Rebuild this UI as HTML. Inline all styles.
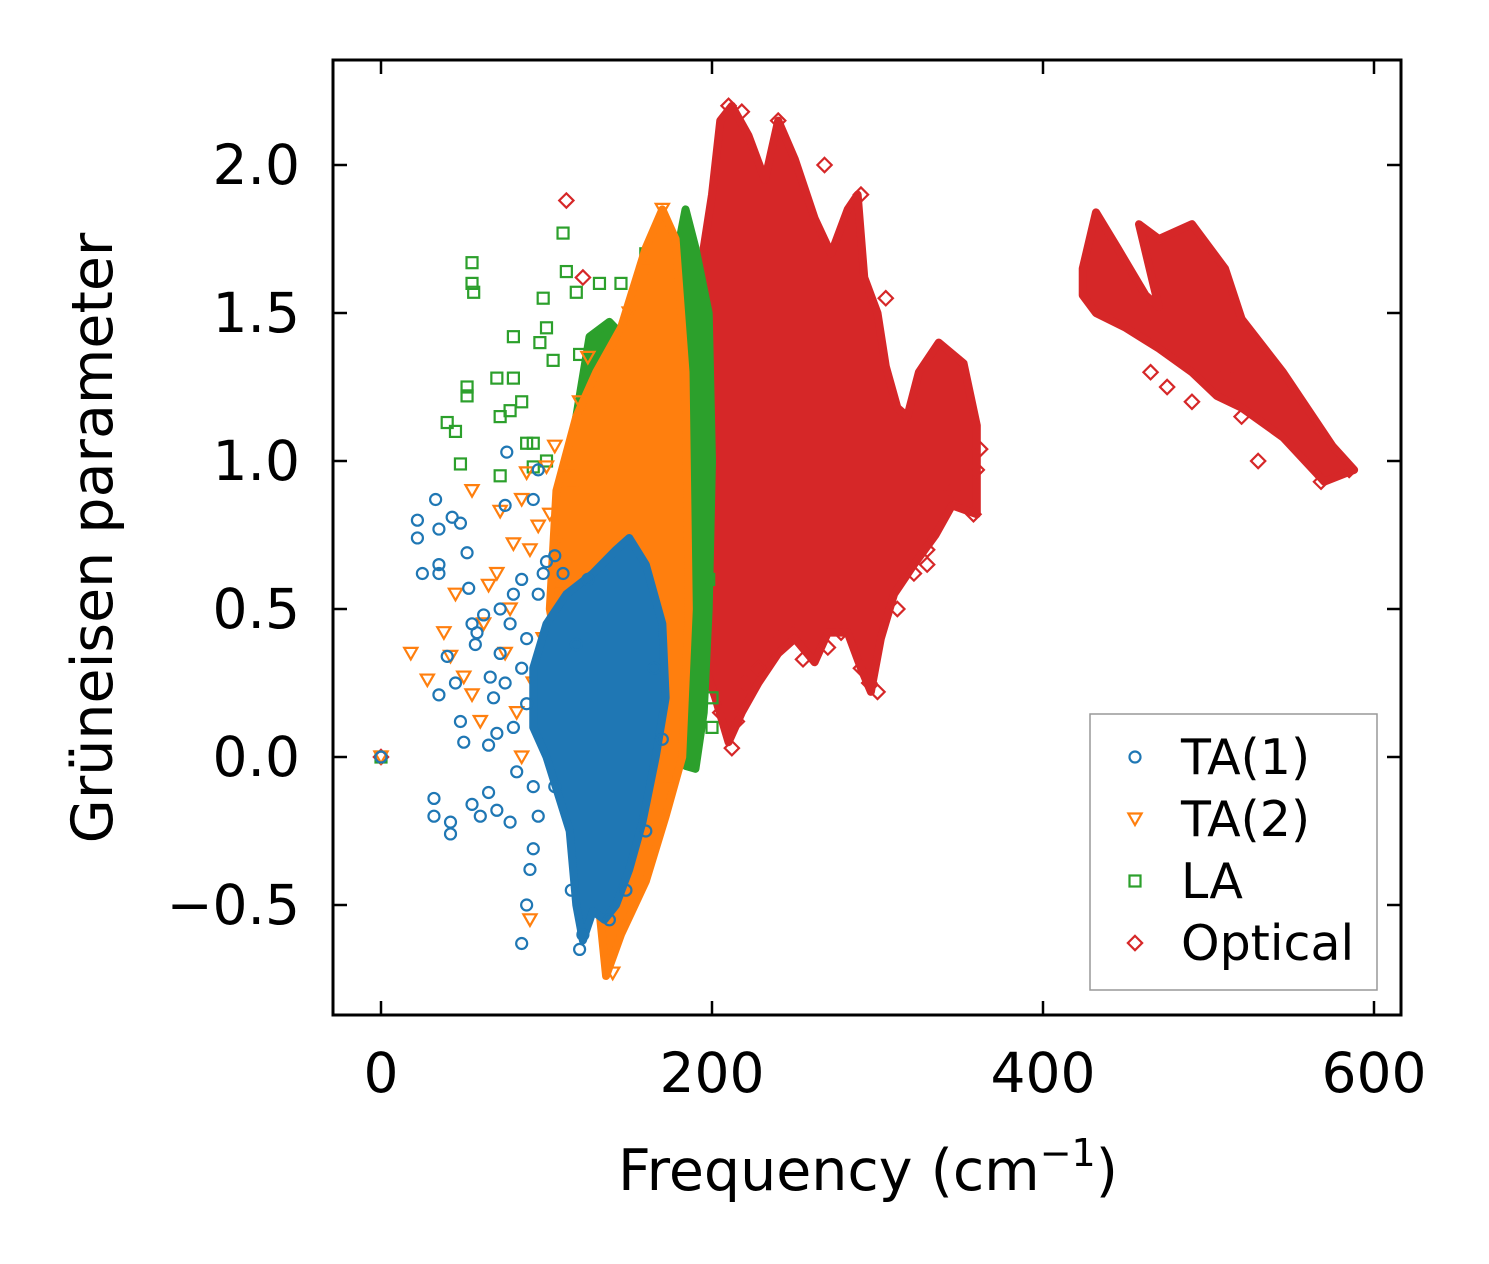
<!DOCTYPE html>
<html><head><meta charset="utf-8">
<style>
html,body{margin:0;padding:0;background:#fff;}
svg{display:block;font-family:"DejaVu Sans","Liberation Sans",sans-serif;}
</style></head>
<body>
<svg id="chart" width="1489" height="1264" viewBox="0 0 1489 1264" xmlns="http://www.w3.org/2000/svg">
<rect x="0" y="0" width="1489" height="1264" fill="#fff"/>
<defs><clipPath id="plotclip"><rect x="333" y="60" width="1068" height="955"/></clipPath></defs>
<g id="marks" clip-path="url(#plotclip)"></g>
<rect x="333" y="60" width="1068" height="955" fill="none" stroke="#000" stroke-width="3"/>
<g id="axes"></g>
<text x="868" y="1190" font-size="57" text-anchor="middle">Frequency (cm<tspan font-size="38" dy="-24">−1</tspan><tspan dy="24">)</tspan></text>
<text transform="translate(112,538) rotate(-90)" font-size="57" text-anchor="middle">Grüneisen parameter</text>
<g id="legend">
<rect x="1090" y="714" width="287" height="276" fill="#fff" fill-opacity="0.8" stroke="#999" stroke-width="1.5"/>
</g>
</svg>
<script>
const xTicks=[0,200,400,600];
const yTicks=[-0.5,0.0,0.5,1.0,1.5,2.0];
const yTickLabels=["−0.5","0.0","0.5","1.0","1.5","2.0"];
const seriesNames=["TA(1)","TA(2)","LA","Optical"];
const seriesColors=["#1f77b4","#ff7f0e","#2ca02c","#d62728"];
// dense-core envelopes [freq, gamma]
const opticalCoreA=[[195,1.72],[200,1.9],[205,2.15],[212,2.2],[222,2.1],[232,1.95],[240,2.15],[250,2.02],[262,1.82],[272,1.7],[282,1.85],[288,1.9],[292,1.62],[300,1.5],[305,1.32],[312,1.18],[318,1.15],[325,1.3],[337,1.4],[352,1.33],[360,1.12],[360,0.82],[345,0.85],[335,0.75],[322,0.65],[310,0.55],[302,0.4],[296,0.22],[290,0.3],[282,0.42],[270,0.42],[262,0.32],[250,0.4],[240,0.35],[228,0.25],[218,0.15],[210,0.05],[202,0.2],[196,0.3]];
const opticalCoreB=[[424,1.65],[432,1.84],[445,1.72],[462,1.56],[470,1.52],[458,1.8],[470,1.75],[490,1.8],[510,1.65],[520,1.48],[545,1.3],[575,1.05],[588,0.97],[570,0.93],[545,1.08],[520,1.18],[505,1.22],[490,1.3],[470,1.38],[450,1.45],[432,1.5],[424,1.56]];
const laCore=[[176,1.62],[184,1.85],[190,1.72],[198,1.5],[200,1.0],[198,0.5],[195,0.15],[190,-0.04],[184,-0.03],[180,0.3],[175,1.0]];
const laCoreB=[[118,1.15],[126,1.42],[138,1.47],[150,1.4],[155,1.2],[140,1.05],[124,1.05]];
const ta2Core=[[118,1.15],[130,1.3],[145,1.45],[160,1.72],[170,1.85],[178,1.75],[184,1.3],[186,0.5],[182,0.0],[172,-0.2],[160,-0.42],[145,-0.6],[136,-0.74],[128,-0.3],[112,0.2],[102,0.5],[106,0.9]];
const ta1Core=[[100,0.45],[112,0.55],[128,0.62],[142,0.7],[150,0.74],[160,0.65],[170,0.45],[172,0.2],[166,0.0],[158,-0.22],[150,-0.38],[142,-0.5],[135,-0.55],[128,-0.52],[122,-0.62],[118,-0.5],[114,-0.25],[100,0.0],[92,0.1],[92,0.3]];
// scattered points [freq, gamma]
const ta1Pts=[[0,0],[22,0.8],[22,0.74],[25,0.62],[33,0.87],[35,0.77],[35,0.65],[35,0.62],[35,0.21],[43,0.81],[48,0.79],[52,0.69],[53,0.57],[55,0.45],[57,0.38],[48,0.12],[50,0.05],[32,-0.14],[32,-0.2],[42,-0.22],[42,-0.26],[55,-0.16],[60,-0.2],[65,-0.12],[70,-0.18],[78,-0.22],[85,-0.63],[88,-0.5],[90,-0.38],[92,-0.31],[68,0.2],[66,0.27],[72,0.5],[75,0.85],[76,1.03],[92,0.87],[95,0.97],[100,0.66],[118,0.38],[125,0.6],[62,0.48],[58,0.42],[80,0.1],[85,0.3],[105,-0.1],[115,-0.45],[120,-0.65],[122,-0.6],[138,-0.55],[148,-0.45],[160,-0.25],[170,0.06],[165,0.3],[45,0.25],[40,0.34],[65,0.04],[80,0.55],[85,0.6],[78,0.45],[72,0.35],[88,0.18],[82,-0.05],[95,-0.2],[88,0.4],[95,0.55],[75,0.25],[70,0.08],[92,-0.1],[98,0.62],[105,0.68],[110,0.62]];
const ta2Pts=[[0,0],[18,0.35],[28,0.26],[38,0.42],[42,0.34],[45,0.55],[50,0.27],[55,0.9],[62,0.45],[65,0.58],[70,0.62],[72,0.83],[80,0.72],[85,0.87],[88,0.96],[90,-0.55],[100,0.98],[105,1.05],[110,0.55],[112,0.95],[120,1.2],[125,1.35],[140,-0.73],[60,0.12],[55,0.21],[75,0.35],[150,1.5],[160,1.65],[170,1.85],[175,-0.1],[95,0.78],[102,0.82],[90,0.7],[78,0.5],[92,0.25],[98,0.4],[108,0.75],[115,0.9],[82,0.15],[85,0.0]];
const laPts=[[0,0],[40,1.13],[45,1.1],[48,0.99],[52,1.22],[52,1.25],[55,1.67],[55,1.6],[56,1.57],[70,1.28],[72,1.15],[78,1.17],[80,1.28],[80,1.42],[85,1.2],[88,1.06],[92,1.06],[96,1.4],[98,1.55],[100,1.45],[104,1.34],[100,1.0],[110,1.77],[112,1.64],[118,1.57],[120,1.36],[132,1.6],[145,1.6],[160,1.7],[175,1.75],[200,0.1],[200,0.2],[198,0.6],[92,0.98],[72,0.95]];
const opticalPts=[[0,0],[112,1.88],[122,1.62],[205,0.15],[212,0.03],[215,0.12],[220,0.25],[228,0.3],[240,0.4],[250,0.42],[255,0.33],[270,0.37],[278,0.42],[290,0.3],[295,0.25],[300,0.22],[312,0.5],[322,0.62],[330,0.7],[330,0.65],[358,0.82],[362,1.04],[360,0.97],[240,2.15],[218,2.18],[268,2.0],[530,1.0],[520,1.15],[490,1.2],[475,1.25],[568,0.93],[585,0.97],[510,1.3],[465,1.3],[305,1.55],[290,1.9],[345,0.9],[210,2.2]];
const ptsAll=[ta1Pts,ta2Pts,laPts,opticalPts];

const NS="http://www.w3.org/2000/svg";
function X(v){return 381+(v-0)*(1374-381)/600;}
function Y(v){return 757-v*(757-165)/2.0;}
function el(tag,attrs,parent){const e=document.createElementNS(NS,tag);for(const k in attrs)e.setAttribute(k,attrs[k]);parent.appendChild(e);return e;}
const marks=document.getElementById('marks');
const axes=document.getElementById('axes');
const legend=document.getElementById('legend');

function marker(i,x,y,parent,r){
  const c=seriesColors[i];let m;
  if(i===0){m=el('circle',{cx:x,cy:y,r:r,fill:'none',stroke:c,'stroke-width':2.2},parent);}
  else if(i===1){m=el('polygon',{points:`${x-r*1.2},${y-r} ${x+r*1.2},${y-r} ${x},${y+r*1.1}`,fill:'none',stroke:c,'stroke-width':2.2},parent);}
  else if(i===2){m=el('rect',{x:x-r,y:y-r,width:2*r,height:2*r,fill:'none',stroke:c,'stroke-width':2.2},parent);}
  else {m=el('polygon',{points:`${x},${y-r*1.3} ${x+r*1.3},${y} ${x},${y+r*1.3} ${x-r*1.3},${y}`,fill:'none',stroke:c,'stroke-width':2.2},parent);}
  return m;
}
function core(arr,i,name){
  const p=el('polygon',{points:arr.map(d=>X(d[0])+','+Y(d[1])).join(' '),fill:seriesColors[i],stroke:seriesColors[i],'stroke-width':8,'stroke-linejoin':'round'},marks);
  
  
}
const order=[3,2,1,0];
const cores={3:[[opticalCoreA,'optical-core-a'],[opticalCoreB,'optical-core-b']],2:[[laCore,'la-core'],[laCoreB,'la-core-b']],1:[[ta2Core,'ta2-core']],0:[[ta1Core,'ta1-core']]};
order.forEach(i=>{
  cores[i].forEach(c=>core(c[0],i,c[1]));
  ptsAll[i].forEach(d=>{
    const m=marker(i,X(d[0]),Y(d[1]),marks,5.5);
    
    
  });
});
xTicks.forEach(v=>{
  const x=X(v);
  let t=el('line',{x1:x,y1:1015,x2:x,y2:1001,stroke:'#000','stroke-width':2.5},axes);
  
  
  t=el('line',{x1:x,y1:60,x2:x,y2:74,stroke:'#000','stroke-width':2.5},axes);
  
  
  const l=el('text',{x:x,y:1092,'font-size':55,'text-anchor':'middle'},axes);
  l.textContent=String(v);
  
  
});
yTicks.forEach((v,k)=>{
  const y=Y(v);
  let t=el('line',{x1:333,y1:y,x2:347,y2:y,stroke:'#000','stroke-width':2.5},axes);
  
  
  t=el('line',{x1:1401,y1:y,x2:1387,y2:y,stroke:'#000','stroke-width':2.5},axes);
  
  
  const l=el('text',{x:300,y:y+19,'font-size':55,'text-anchor':'end'},axes);
  l.textContent=yTickLabels[k];
  
  
});
seriesNames.forEach((n,i)=>{
  const y=757+i*62;
  const m=marker(i,1135,y,legend,5.5);
  
  
  const t=el('text',{x:1181,y:y+17,'font-size':49},legend);
  t.textContent=n;
  
  
});
</script>
</body></html>
